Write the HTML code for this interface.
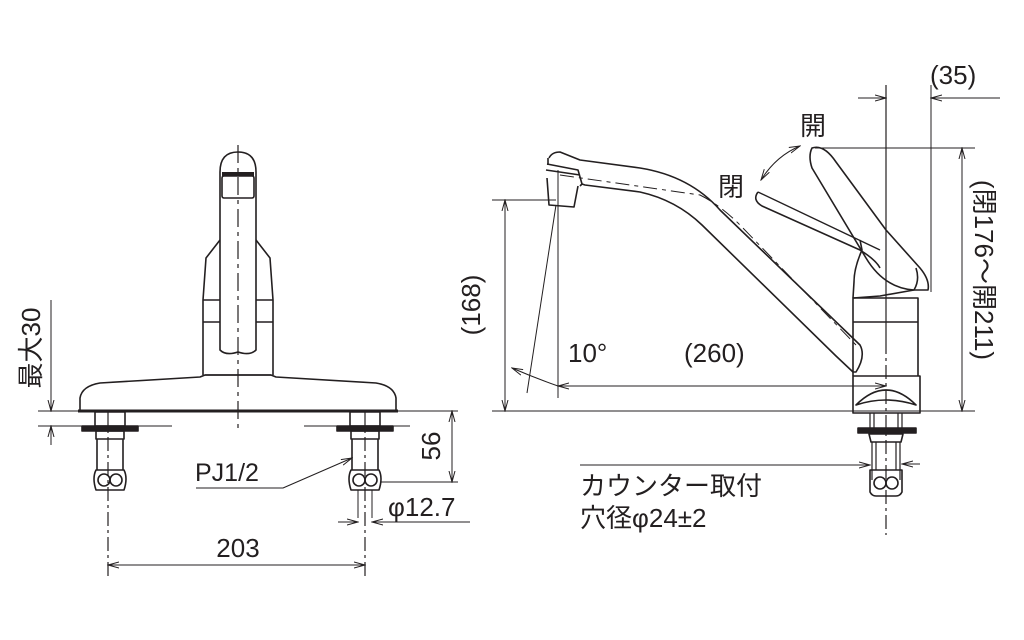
<!DOCTYPE html>
<html><head><meta charset="utf-8"><style>
html,body{margin:0;padding:0;background:#fff}
svg{display:block}
text{font-family:"Liberation Sans","Noto Sans CJK JP",sans-serif;fill:#231f20}
</style></head><body>
<svg width="1024" height="640" viewBox="0 0 1024 640" xmlns="http://www.w3.org/2000/svg">
<defs>
<marker id="a" markerWidth="12" markerHeight="8" refX="11" refY="4" orient="auto-start-reverse" markerUnits="userSpaceOnUse">
<path d="M0,1 L11,4 L0,7" fill="none" stroke="#231f20" stroke-width="1"/></marker>
</defs>
<g fill="none" stroke="#231f20" stroke-width="1.6" stroke-linejoin="round">
<!-- LEFT VIEW -->
<line x1="238" y1="145" x2="238" y2="430" stroke-width="1.2" stroke-dasharray="18,5,4,5"/>
<path d="M220,350 L220,172 Q220,152 238,152 Q256,152 256,172 L256,350 Q250,356 238,352 Q226,356 220,350 Z"/>
<rect x="222" y="176" width="32" height="22" rx="2"/>
<line x1="222" y1="174" x2="254" y2="174" stroke-width="4"/>
<path d="M220,240 L206,258 L203,300 L203,375 M256,240 L270,258 L273,300 L273,375"/>
<line x1="203" y1="300" x2="220" y2="300"/><line x1="256" y1="300" x2="273" y2="300"/>
<line x1="203" y1="322" x2="220" y2="322"/><line x1="256" y1="322" x2="273" y2="322"/>
<line x1="205" y1="375" x2="271" y2="375"/>
<path d="M80,410 L80,398 Q82,386 100,383 L200,377 L205,375 L271,375 L276,377 L376,383 Q394,386 396,398 L396,410"/>
<line x1="78" y1="411" x2="398" y2="411" stroke-width="3"/>
<line x1="38" y1="411" x2="458" y2="411" stroke-width="1"/>
<line x1="38" y1="426" x2="172" y2="426" stroke-width="1"/>
<line x1="304" y1="426" x2="410" y2="426" stroke-width="1"/>
<g>
<rect x="95" y="412" width="30" height="14"/>
<rect x="82" y="426" width="56" height="5" fill="#231f20"/>
<rect x="96" y="431" width="28" height="8"/>
<path d="M97,439 L97,470 M123,439 L123,470"/>
<path d="M96,470 L124,470 Q128,478 124,490 L96,490 Q92,478 96,470 Z"/>
<circle cx="104" cy="480" r="6"/><circle cx="116" cy="480" r="6"/>
<line x1="108" y1="412" x2="108" y2="578" stroke-width="1.2" stroke-dasharray="14,4,3,4"/>
</g>
<g>
<rect x="350" y="412" width="30" height="14"/>
<rect x="337" y="426" width="56" height="5" fill="#231f20"/>
<rect x="351" y="431" width="28" height="8"/>
<path d="M352,439 L352,470 M378,439 L378,470"/>
<path d="M351,470 L379,470 Q383,478 379,490 L351,490 Q347,478 351,470 Z"/>
<circle cx="359" cy="480" r="6"/><circle cx="371" cy="480" r="6"/>
<path d="M358,490 L358,518 M372,490 L372,518" stroke-width="1"/>
<line x1="365" y1="412" x2="365" y2="578" stroke-width="1.2" stroke-dasharray="14,4,3,4"/>
</g>
<g stroke-width="1">
<line x1="51" y1="300" x2="51" y2="411" marker-end="url(#a)"/>
<line x1="51" y1="445" x2="51" y2="426" marker-end="url(#a)"/>
<line x1="108" y1="565" x2="365" y2="565" marker-start="url(#a)" marker-end="url(#a)"/>
<line x1="452" y1="411" x2="452" y2="482" marker-start="url(#a)" marker-end="url(#a)"/>
<line x1="380" y1="482" x2="458" y2="482"/>
<line x1="338" y1="522" x2="358" y2="522" marker-end="url(#a)"/>
<line x1="470" y1="522" x2="372" y2="522" marker-end="url(#a)"/>
<polyline points="196,488 283,488 352,458" marker-end="url(#a)"/>
</g>
<!-- RIGHT VIEW -->
<line x1="886" y1="85" x2="886" y2="340" stroke-width="1.2"/>
<line x1="886" y1="340" x2="886" y2="535" stroke-width="1.2" stroke-dasharray="14,4,3,4"/>
<line x1="931" y1="85" x2="931" y2="292" stroke-width="1"/>
<line x1="492" y1="411" x2="975" y2="411" stroke-width="1"/>
<path d="M549,158 Q552,152 560,152 L580,160 L640,168 Q690,176 720,210 L860,345 Q866,356 856,372 L853,372 L836,356 L702,225 Q676,200 640,192 L585,185 L582,184"/>
<path d="M548,165 L548,158 M547,164 L578,170 L582,184 L580,186"/>
<path d="M546,170 L580,175"/>
<path d="M547,178 L549,205 L574,207 L578,186"/>
<path d="M560,175 L700,195 Q720,205 740,225 L856,345" stroke-width="1" stroke-dasharray="14,5,4,5"/>
<path d="M853,413 L853,376 L920,376 L920,413 Z"/>
<path d="M856,405 Q886,375 916,405 Q886,395 856,405 Z"/>
<path d="M853,376 L853,298 L918,298 L918,376 M853,322 L918,322"/>
<path d="M853,298 L854,282 Q854,268 862,250 L860,240 M853,298 L880,296 L914,290 Q920,280 916,268"/>
<path d="M812,148 Q808,156 812,168 L866,258 Q884,288 914,290 L928,290 Q930,280 920,268 L886,230 L836,162 Q824,144 812,148 Z"/>
<path d="M758,192 Q752,200 762,206 L860,250 Q876,260 880,268"/>
<path d="M758,192 L880,250" stroke-width="1.4"/>
<rect x="858" y="428" width="58" height="5" fill="#231f20"/>
<path d="M870,413 L870,428 M902,413 L902,428 M874,413 L874,428 M898,413 L898,428" stroke-width="1.2"/>
<path d="M869,434 L903,434 L901,442 L871,442 Z"/>
<path d="M872,442 L872,480 M900,442 L900,480 M876,442 L876,470 M896,442 L896,470" stroke-width="1.2"/>
<path d="M870,470 L902,470 L902,492 Q900,496 896,496 L876,496 Q872,496 870,492 Z"/>
<circle cx="880" cy="483" r="6"/><circle cx="892" cy="483" r="6"/>
<g stroke-width="1">
<line x1="858" y1="98" x2="886" y2="98" marker-end="url(#a)"/>
<line x1="1000" y1="98" x2="931" y2="98" marker-end="url(#a)"/>
<line x1="815" y1="148" x2="975" y2="148"/>
<line x1="962" y1="148" x2="962" y2="411" marker-start="url(#a)" marker-end="url(#a)"/>
<line x1="492" y1="200" x2="556" y2="200"/>
<line x1="505" y1="200" x2="505" y2="411" marker-start="url(#a)" marker-end="url(#a)"/>
<line x1="558" y1="170" x2="558" y2="398"/>
<line x1="556" y1="205" x2="527" y2="393"/>
<path d="M512,368 Q535,378 558,386" marker-start="url(#a)"/>
<line x1="558" y1="386" x2="886" y2="386" marker-start="url(#a)" marker-end="url(#a)"/>
<line x1="580" y1="465" x2="870" y2="465" marker-end="url(#a)"/>
<line x1="920" y1="464" x2="902" y2="464" marker-end="url(#a)"/>
<path d="M800,146 Q776,156 761,180" marker-start="url(#a)" marker-end="url(#a)"/>
</g>
</g>
<g font-size="26">
<text x="238" y="557" text-anchor="middle">203</text>
<text x="195" y="481" font-size="25">PJ1/2</text>
<text x="388" y="516">φ12.7</text>
<text transform="translate(440,446) rotate(-90)" text-anchor="middle">56</text>
<text transform="translate(40,348) rotate(-90)" text-anchor="middle">最大30</text>
<text x="930" y="84">(35)</text>
<text x="800" y="135">開</text>
<text x="718" y="196">閉</text>
<text transform="translate(480,305) rotate(-90)" text-anchor="middle">(168)</text>
<text x="568" y="362">10°</text>
<text x="684" y="362">(260)</text>
<text transform="translate(975,270) rotate(90)" text-anchor="middle">(閉176～開211)</text>
<text x="580" y="495">カウンター取付</text>
<text x="580" y="527">穴径φ24±2</text>
</g>
</svg>
</body></html>
